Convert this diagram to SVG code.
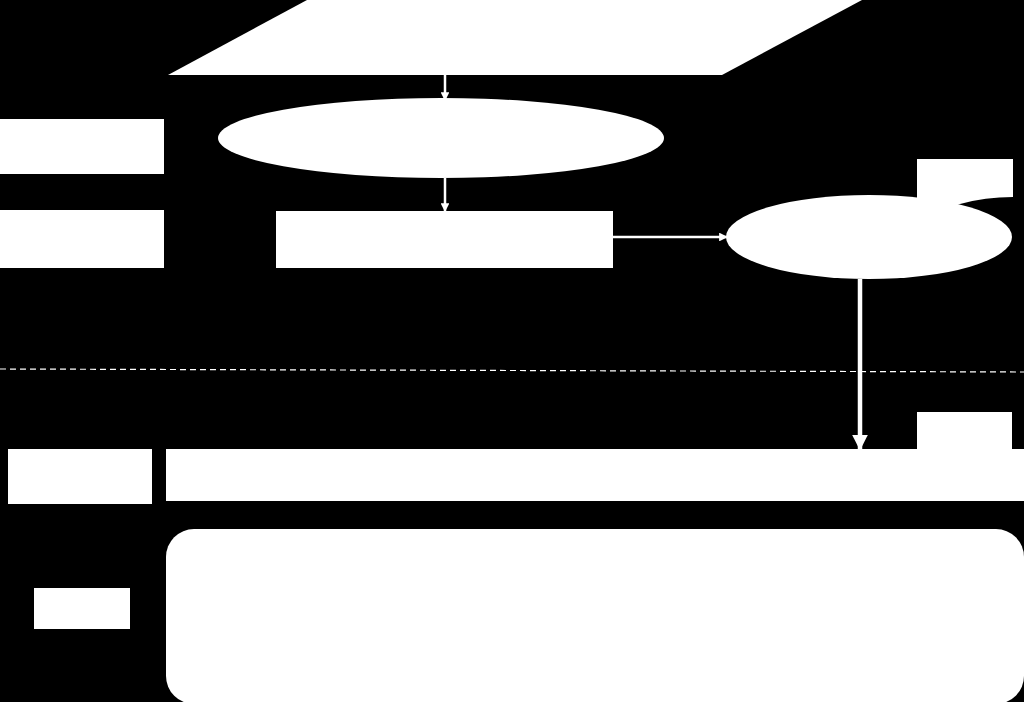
<svg xmlns="http://www.w3.org/2000/svg" width="1024" height="702" viewBox="0 0 1024 702">
<style>
.n{fill:#fff;stroke:none}
.c{stroke:#fff;fill:none}
</style>
<defs>
<marker id="ah" viewBox="0 0 10 10" refX="9" refY="5" markerWidth="3.5" markerHeight="3.5" orient="auto" markerUnits="strokeWidth">
<path d="M0,0 L10,5 L0,10 Z" fill="#fff"/>
</marker>
</defs>
<rect width="1024" height="702" fill="#000"/>
<g id="input"><polygon class="n" points="307,0 862,0 722,75 168,75"/></g>
<g id="process1"><ellipse class="n" cx="441" cy="138" rx="223" ry="40"/></g>
<g id="label1"><rect class="n" x="0" y="119" width="164" height="55"/></g>
<g id="label2"><rect class="n" x="0" y="210" width="164" height="58"/></g>
<g id="step"><rect class="n" x="276" y="211" width="337" height="57"/></g>
<g id="process2"><ellipse class="n" cx="869" cy="237" rx="143" ry="42"/></g>
<g id="tag1"><path class="n" d="M917,159 H1013 V197 Q985,197 960,204 Q938,210 917,206 Z"/></g>
<g id="tag2"><path class="n" d="M917,412 H1012 V449 Q985,449 960,455 Q938,460 917,456 Z"/></g>
<g id="label3"><rect class="n" x="8" y="449" width="144" height="55"/></g>
<g id="bar"><rect class="n" x="166" y="449" width="858" height="52"/></g>
<g id="panel"><rect class="n" x="166" y="529" width="858" height="175" rx="28" ry="28"/></g>
<g id="label4"><rect class="n" x="34" y="588" width="96" height="41"/></g>
<g id="connectors">
<line class="c" x1="0" y1="369" x2="1024" y2="372" stroke-width="1.2" stroke-dasharray="6,4" stroke="#ddd"/>
<line class="c" x1="445" y1="75" x2="445" y2="100" stroke-width="2.5" marker-end="url(#ah)"/>
<line class="c" x1="445" y1="178" x2="445" y2="211" stroke-width="2.5" marker-end="url(#ah)"/>
<line class="c" x1="613" y1="237" x2="727" y2="237" stroke-width="2.5" marker-end="url(#ah)"/>
<line class="c" x1="860" y1="279" x2="860" y2="449" stroke-width="4.5" marker-end="url(#ah)"/>
</g>
</svg>
